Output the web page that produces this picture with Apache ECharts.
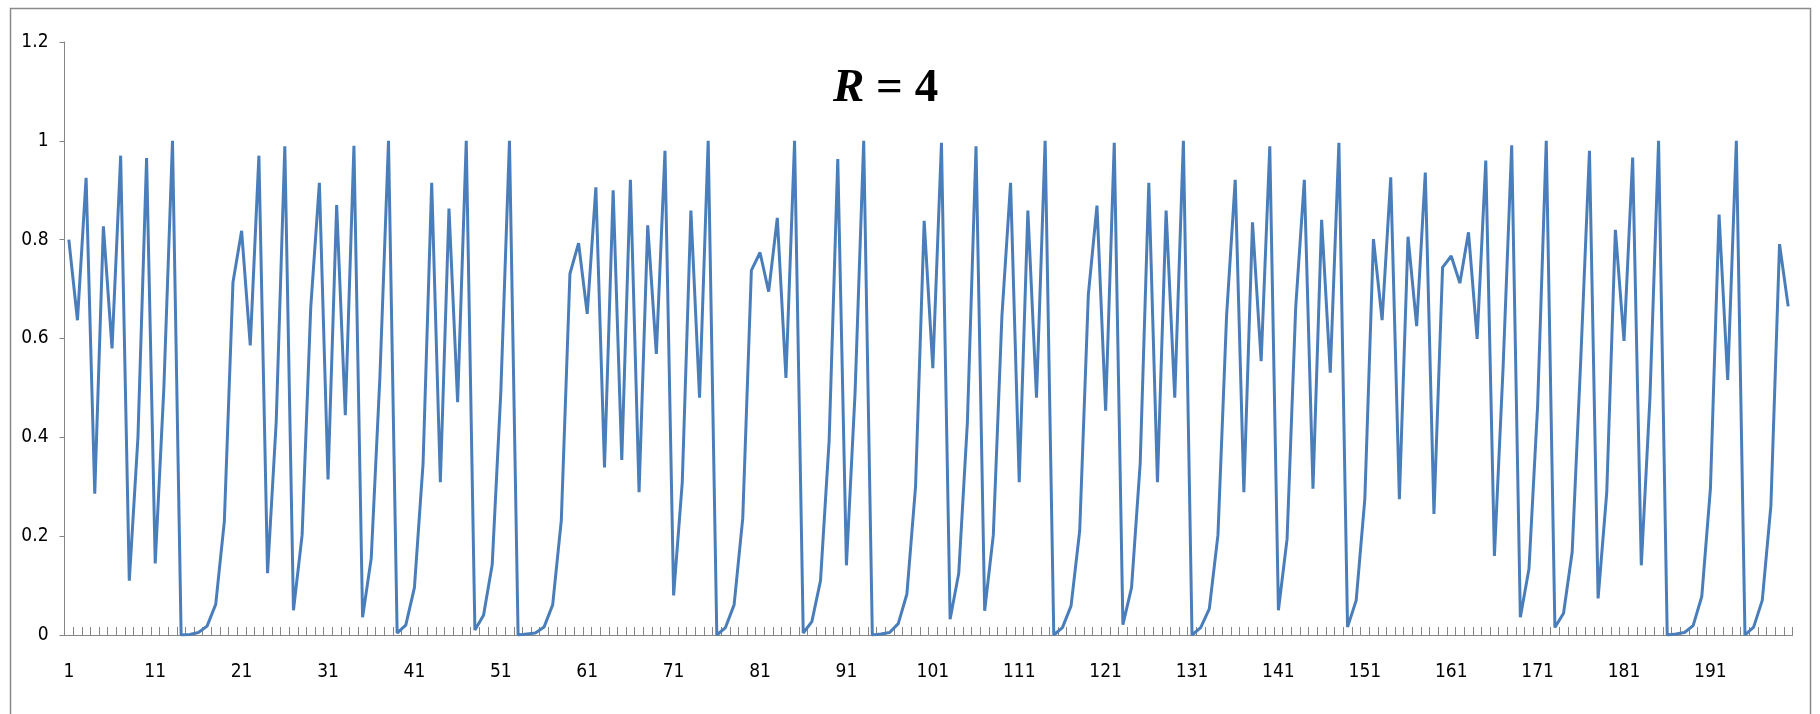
<!DOCTYPE html>
<html><head><meta charset="utf-8">
<script src="https://cdn.jsdelivr.net/npm/echarts@6/dist/echarts.min.js"></script>
<style>html,body{margin:0;padding:0;background:#fff}#c{width:1820px;height:714px}</style>
</head><body><div id="c"></div>
<script>
const categories = Array.from({length: 200}, (_, i) => String(i + 1));
const values = [
  0.80, 0.637, 0.925, 0.286, 0.827, 0.58, 0.97, 0.11, 0.40, 0.965,
  0.145, 0.50, 1.0, 0.0, 0.001, 0.005, 0.018, 0.062, 0.23, 0.714,
  0.818, 0.586, 0.970, 0.125, 0.43, 0.989, 0.05, 0.202, 0.663, 0.915,
  0.315, 0.87, 0.445, 0.99, 0.036, 0.155, 0.52, 1.0, 0.004, 0.02,
  0.096, 0.347, 0.915, 0.309, 0.863, 0.471, 1.0, 0.01, 0.04, 0.142,
  0.492, 1.0, 0.0, 0.002, 0.004, 0.016, 0.061, 0.232, 0.731, 0.793,
  0.65, 0.906, 0.339, 0.90, 0.354, 0.921, 0.289, 0.829, 0.569, 0.98,
  0.08, 0.309, 0.859, 0.48, 1.0, 0.0, 0.015, 0.061, 0.236, 0.738,
  0.774, 0.695, 0.844, 0.52, 1.0, 0.004, 0.027, 0.11, 0.394, 0.963,
  0.141, 0.49, 1.0, 0.0, 0.002, 0.005, 0.023, 0.083, 0.30, 0.838,
  0.54, 0.996, 0.032, 0.125, 0.43, 0.989, 0.049, 0.202, 0.646, 0.915,
  0.309, 0.859, 0.48, 1.0, 0.0, 0.015, 0.059, 0.211, 0.689, 0.869,
  0.454, 0.996, 0.021, 0.096, 0.347, 0.915, 0.309, 0.859, 0.48, 1.0,
  0.0, 0.015, 0.053, 0.202, 0.646, 0.921, 0.289, 0.835, 0.554, 0.989,
  0.05, 0.194, 0.663, 0.921, 0.296, 0.84, 0.531, 0.996, 0.016, 0.07,
  0.275, 0.801, 0.637, 0.926, 0.275, 0.806, 0.625, 0.936, 0.245, 0.744,
  0.767, 0.712, 0.815, 0.599, 0.96, 0.16, 0.54, 0.991, 0.036, 0.134,
  0.464, 1.0, 0.015, 0.044, 0.168, 0.56, 0.98, 0.074, 0.288, 0.82,
  0.595, 0.966, 0.141, 0.48, 1.0, 0.0, 0.002, 0.005, 0.019, 0.078,
  0.296, 0.851, 0.516, 1.0, 0.0, 0.016, 0.07, 0.262, 0.791, 0.665
];
const yMin = 0, yMax = 1.2, yStep = 0.2;
const labelFont = "'Liberation Sans Narrow', 'DejaVu Sans Condensed', sans-serif";

const chart = echarts.init(document.getElementById('c'), null, {renderer: 'canvas'});
chart.setOption({
  animation: false,
  backgroundColor: '#ffffff',
  title: {
    left: 828, top: 60,
    text: '{r|R}{n| = 4}',
    textStyle: {
      rich: {
        r: {fontFamily: "'Liberation Serif', serif", fontSize: 47, fontWeight: 'bold', fontStyle: 'italic', color: '#000', lineHeight: 47},
        n: {fontFamily: "'Liberation Serif', serif", fontSize: 47, fontWeight: 'bold', color: '#000', lineHeight: 47}
      }
    }
  },
  graphic: [{
    type: 'rect', silent: true, z: -1,
    shape: {x: 10.5, y: 8.5, width: 1800, height: 720},
    style: {fill: 'none', stroke: '#8a8a8a', lineWidth: 1.5}
  }],
  grid: {left: 64.5, right: 1820 - 1792.5, top: 42, bottom: 714 - 635, containLabel: false},
  xAxis: {
    type: 'category', data: categories, boundaryGap: true,
    axisLine: {lineStyle: {color: '#868686', width: 1}},
    axisTick: {show: true, inside: true, length: 8, interval: 0, lineStyle: {color: '#868686'}},
    axisLabel: {interval: 9, margin: 28, fontSize: 19, color: '#000', fontFamily: labelFont},
    splitLine: {show: false}
  },
  yAxis: {
    type: 'value', min: yMin, max: yMax, interval: yStep,
    axisLine: {show: true, lineStyle: {color: '#868686', width: 1}},
    axisTick: {show: true, inside: false, length: 5, lineStyle: {color: '#868686'}},
    axisLabel: {margin: 16, fontSize: 19, color: '#000', fontFamily: labelFont},
    splitLine: {show: false}
  },
  series: [{
    type: 'line', data: values, symbol: 'none', smooth: false,
    lineStyle: {color: '#4a7ebb', width: 3}
  }]
});
</script></body></html>
